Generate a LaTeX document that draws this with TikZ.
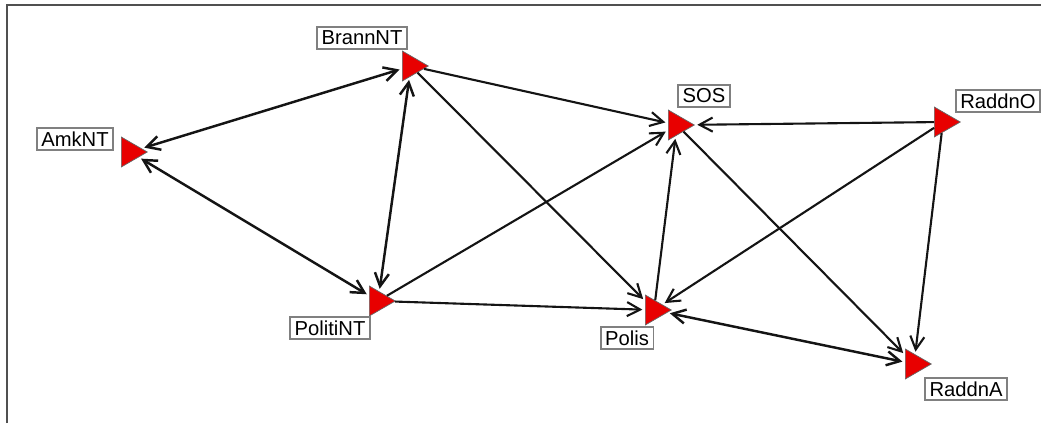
\documentclass[tikz,border=0pt]{standalone}
\usepackage{fontspec}
\setmainfont{Liberation Sans}
\usepackage{tikz}
\usetikzlibrary{shapes.geometric, arrows.meta, positioning}
\usepackage{xcolor}
\definecolor{cRed}{RGB}{232,0,0}
\definecolor{cFrame}{RGB}{80,80,80}
\definecolor{cEdge}{RGB}{20,20,20}
\tikzset{
  vertexnode/.style={regular polygon, regular polygon sides=3,
                     shape border rotate=-90, minimum size=0.69cm,
                     inner sep=0pt, fill=cRed, draw=black!60, line width=0.4pt},
  labelnode/.style={rectangle, draw=black!50, fill=white, line width=0.9pt,
                    font=\fontsize{11.5}{13}\selectfont, inner xsep=2.5pt,
                    inner ysep=0pt, minimum height=0.45cm},
  arrow/.style={-{Straight Barb[length=7.5pt, width=8pt]}, line width=1.2pt,
                color=cEdge, shorten >=1.5pt},
  biarrow/.style={{Straight Barb[length=7.5pt, width=8pt]}-{Straight Barb[length=7.5pt, width=8pt]},
                  line width=1.4pt, color=cEdge, shorten >=1.5pt, shorten <=1.5pt}
}

\begin{document}
\begin{tikzpicture}[x=0.02cm, y=-0.02cm]
  \useasboundingbox (0,0) rectangle (1047,423);
  \draw[cFrame, line width=1pt] (7,423) -- (7,5) -- (1041,5);

  \node[vertexnode] (amk)    at (130,152) {};
  \node[vertexnode] (brann)  at (411,66)  {};
  \node[vertexnode] (sos)    at (677,125) {};
  \node[vertexnode] (raddno) at (943,122) {};
  \node[vertexnode] (politi) at (378,301) {};
  \node[vertexnode] (polis)  at (654,310) {};
  \node[vertexnode] (raddna) at (914,364) {};

  \node[labelnode] (amklbl)    at (75,139)  {AmkNT};
  \node[labelnode] (brannlbl)  at (362,38)  {BrannNT};
  \node[labelnode] (soslbl)    at (704,96)  {SOS};
  \node[labelnode] (raddnolbl) at (998,101) {RaddnO};
  \node[labelnode] (politilbl) at (330,328) {PolitiNT};
  \node[labelnode] (polislbl)  at (627,338) {Polis};
  \node[labelnode] (raddnalbl) at (966,389) {RaddnA};

  \draw[biarrow] (amk) -- (brann);
  \draw[biarrow] (amk) -- (politi);
  \draw[biarrow] (brann) -- (politi);
  \draw[biarrow] (polis) -- (raddna);
  \draw[arrow] (brann) -- (sos);
  \draw[arrow] (brann) -- (polis);
  \draw[arrow] (politi) -- (sos);
  \draw[arrow] (politi) -- (polis);
  \draw[arrow] (polis) -- (sos);
  \draw[arrow] (raddno) -- (sos);
  \draw[arrow] (raddno) -- (polis);
  \draw[arrow] (raddno) -- (raddna);
  \draw[arrow] (sos) -- (raddna);
\end{tikzpicture}
\end{document}
